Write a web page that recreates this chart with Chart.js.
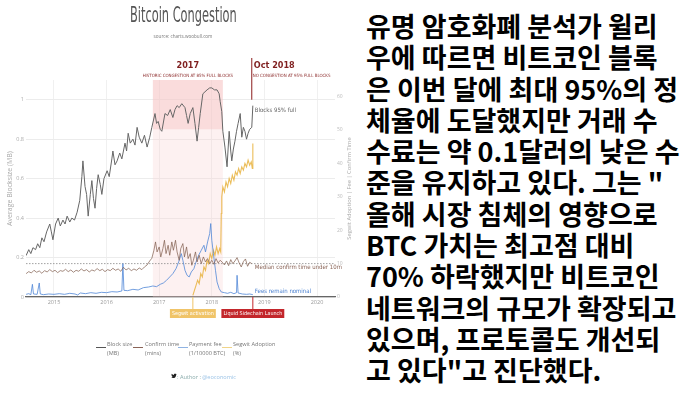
<!DOCTYPE html>
<html>
<head>
<meta charset="utf-8">
<script src="https://cdn.jsdelivr.net/npm/chart.js@4.4.0/dist/chart.umd.min.js"></script>
<style>
  body { margin: 0; width: 700px; height: 394px; overflow: hidden; position: relative; background: #fff; font-family: 'Open Sans', sans-serif; }
  #wrap { position: absolute; left: 0; top: 0; width: 355px; height: 394px; }
  .t { position: absolute; white-space: nowrap; }
  #title { left: 130px; top: 2px; font-family: 'Liberation Sans Narrow', 'DejaVu Sans Condensed', 'Liberation Sans', sans-serif; font-size: 22px; color: #555; transform-origin: 0 0; }
  #source { left: 0; width: 366px; text-align: center; top: 33px; font-size: 4.6px; color: #777; }
  .lg { position: absolute; top: 340px; font-size: 5.6px; line-height: 9px; color: #777; }
  .sw { position: absolute; top: 347px; width: 10px; height: 0; border-top: 1.3px solid #555; }
  #author { left: 177px; top: 373px; font-size: 5.6px; color: #8aa; }
  #author b { font-weight: normal; color: #9bc3e6; }
  #bird { position: absolute; left: 171px; top: 373px; }
  #kr { position: absolute; left: 366px; top: 10px; font-family: 'Noto Sans CJK KR', sans-serif; font-weight: 700; font-size: 27px; line-height: 31.3px; color: #000; white-space: nowrap; }
</style>
</head>
<body>
<div id="wrap"><canvas id="c" width="355" height="394"></canvas></div>
<div class="t" id="title">Bitcoin Congestion</div>
<div class="t" id="source">source: charts.woobull.com</div>

<div class="sw" style="left:96px;border-color:#555"></div>
<div class="lg" style="left:107px">Block size<br>(MB)</div>
<div class="sw" style="left:133px;border-color:#8a6457"></div>
<div class="lg" style="left:145px">Confirm time<br>(mins)</div>
<div class="sw" style="left:178px;border-color:#8fb3e3"></div>
<div class="lg" style="left:189px">Payment fee<br>(1/10000 BTC)</div>
<div class="sw" style="left:222px;border-color:#f0d488"></div>
<div class="lg" style="left:233px">Segwit Adoption<br>(%)</div>

<svg id="bird" width="6" height="6" viewBox="0 0 24 24"><path fill="#222" d="M23 4.6c-.8.4-1.7.6-2.6.7.9-.6 1.6-1.4 2-2.5-.9.5-1.9.9-2.9 1.1A4.5 4.5 0 0 0 11.8 8 12.8 12.8 0 0 1 2.5 3.3a4.5 4.5 0 0 0 1.4 6 4.4 4.4 0 0 1-2-.6 4.5 4.5 0 0 0 3.6 4.5 4.5 4.5 0 0 1-2 .1 4.5 4.5 0 0 0 4.2 3.1A9 9 0 0 1 1 18.3 12.8 12.8 0 0 0 7.9 20.3c8.3 0 12.8-6.9 12.8-12.8v-.6c.9-.6 1.6-1.400 2.3-2.3z"/></svg>
<div class="t" id="author">: Author : <b>@eoconomic</b></div>

<div id="kr">유명 암호화폐 분석가 윌리<br>우에 따르면 비트코인 블록<br>은 이번 달에 최대 95%의 정<br>체율에 도달했지만 거래 수<br>수료는 약 0.1달러의 낮은 수<br>준을 유지하고 있다. 그는 "<br>올해 시장 침체의 영향으로<br>BTC 가치는 최고점 대비<br>70% 하락했지만 비트코인<br>네트워크의 규모가 확장되고<br>있으며, 프로토콜도 개선되<br>고 있다"고 진단했다.</div>

<script>
// Bitcoin congestion — block size, confirm time, fees, segwit share
const yearTicks = [2015, 2016, 2017, 2018, 2019, 2020];
const blockTicks = [0, 0.2, 0.4, 0.6, 0.8, 1];
const rightTicks = [0, 10, 20, 30, 40, 50, 60];

const blockYears = [2014.47, 2014.52, 2014.56, 2014.60, 2014.65, 2014.69, 2014.73, 2014.77, 2014.81, 2014.86,
  2014.92, 2014.95, 2014.98, 2015.03, 2015.08, 2015.12, 2015.17, 2015.21, 2015.25, 2015.30,
  2015.34, 2015.39, 2015.44, 2015.49, 2015.53, 2015.55, 2015.59, 2015.62, 2015.65, 2015.69,
  2015.72, 2015.75, 2015.78, 2015.81, 2015.84, 2015.88, 2015.91, 2015.95, 2016.01, 2016.05,
  2016.10, 2016.12, 2016.16, 2016.20, 2016.25, 2016.29, 2016.35, 2016.38, 2016.41, 2016.45,
  2016.50, 2016.54, 2016.58, 2016.62, 2016.67, 2016.72, 2016.77, 2016.82, 2016.86, 2016.92,
  2016.95, 2016.98, 2017.02, 2017.05, 2017.11, 2017.16, 2017.21, 2017.26, 2017.30, 2017.34,
  2017.38, 2017.43, 2017.49, 2017.52, 2017.55, 2017.59, 2017.64, 2017.68, 2017.72, 2017.75,
  2017.78, 2017.83, 2017.87, 2017.91, 2017.96, 2018.00, 2018.05, 2018.10, 2018.14, 2018.16,
  2018.19, 2018.21, 2018.25, 2018.29, 2018.31, 2018.33, 2018.36, 2018.38, 2018.41, 2018.44,
  2018.47, 2018.50, 2018.54, 2018.57, 2018.60, 2018.63, 2018.66, 2018.69, 2018.72, 2018.76, 2018.78];
const blockSize = [0.21, 0.24, 0.22, 0.25, 0.24, 0.27, 0.25, 0.30, 0.28, 0.33,
  0.37, 0.33, 0.29, 0.37, 0.40, 0.36, 0.39, 0.37, 0.41, 0.38,
  0.40, 0.39, 0.43, 0.49, 0.61, 0.69, 0.56, 0.52, 0.41, 0.52,
  0.59, 0.50, 0.45, 0.55, 0.62, 0.57, 0.52, 0.60, 0.64, 0.61,
  0.70, 0.74, 0.67, 0.69, 0.73, 0.70, 0.78, 0.74, 0.83, 0.78,
  0.80, 0.77, 0.86, 0.81, 0.78, 0.82, 0.76, 0.81, 0.86, 0.93,
  0.88, 0.89, 0.85, 0.84, 0.93, 0.92, 0.95, 0.91, 0.95, 0.97,
  0.96, 0.98, 0.96, 0.92, 0.88, 0.93, 0.96, 0.88, 0.79, 0.86,
  0.93, 1.03, 1.04, 1.05, 1.06, 1.06, 1.05, 1.05, 1.03, 0.99,
  0.94, 0.84, 0.76, 0.66, 0.75, 0.84, 0.74, 0.69, 0.75, 0.79,
  0.84, 0.88, 0.93, 0.81, 0.86, 0.84, 0.80, 0.83, 0.85, 0.86, 0.97];

const confirmYears = [2014.47, 2014.52, 2014.57, 2014.62, 2014.67, 2014.72, 2014.77, 2014.82, 2014.87, 2014.92,
  2014.97, 2015.02, 2015.07, 2015.12, 2015.17, 2015.22, 2015.27, 2015.32, 2015.37, 2015.42,
  2015.47, 2015.52, 2015.57, 2015.62, 2015.67, 2015.72, 2015.77, 2015.82, 2015.87, 2015.92,
  2015.97, 2016.02, 2016.07, 2016.12, 2016.17, 2016.22, 2016.27, 2016.32, 2016.37, 2016.42,
  2016.47, 2016.52, 2016.57, 2016.62, 2016.67, 2016.72, 2016.77, 2016.82, 2016.86, 2016.90,
  2016.93, 2016.96, 2017.00, 2017.03, 2017.07, 2017.10, 2017.13, 2017.17, 2017.20, 2017.24,
  2017.27, 2017.31, 2017.34, 2017.38, 2017.41, 2017.45, 2017.48, 2017.52, 2017.55, 2017.59,
  2017.62, 2017.65, 2017.69, 2017.72, 2017.76, 2017.80, 2017.84, 2017.88, 2017.92, 2017.96,
  2018.00, 2018.04, 2018.08, 2018.12, 2018.16, 2018.20, 2018.24, 2018.28, 2018.32, 2018.36,
  2018.40, 2018.44, 2018.48, 2018.52, 2018.56, 2018.60, 2018.64, 2018.68, 2018.72, 2018.76];
const confirmMins = [7.0, 7.6, 7.2, 8.0, 7.4, 7.8, 7.1, 7.9, 7.5, 8.2,
  7.6, 8.0, 7.3, 7.9, 7.7, 8.3, 7.6, 8.1, 7.4, 8.0,
  7.7, 8.4, 7.8, 8.2, 7.5, 8.1, 7.8, 8.5, 7.9, 8.3,
  7.6, 8.2, 7.9, 8.6, 8.0, 8.4, 7.7, 8.9, 8.1, 8.6,
  7.9, 8.4, 8.0, 8.7, 8.2, 9.0, 9.6, 10.8, 11.6, 14.0,
  16.5, 13.5, 15.0, 12.0, 14.5, 17.0, 13.0, 15.5, 12.5, 16.5,
  14.0, 17.0, 13.5, 11.0, 14.5, 16.0, 12.0, 15.0, 11.5, 13.0,
  9.5, 11.0, 13.5, 10.5, 12.5, 10.0, 12.0, 10.5, 11.5, 10.0,
  11.0, 9.8, 11.5, 10.2, 11.0, 10.4, 9.6, 10.8, 9.4, 11.2,
  10.0, 10.8, 11.8, 10.2, 9.0, 10.6, 11.4, 9.2, 10.4, 10.0];

const feeYears = [2014.47, 2014.52, 2014.56, 2014.59, 2014.61, 2014.68, 2014.72, 2014.74, 2014.80, 2014.90,
  2015.00, 2015.10, 2015.20, 2015.30, 2015.40, 2015.45, 2015.50, 2015.60, 2015.70, 2015.80,
  2015.90, 2016.00, 2016.10, 2016.20, 2016.29, 2016.31, 2016.33, 2016.40, 2016.50, 2016.60,
  2016.70, 2016.80, 2016.88, 2016.95, 2017.02, 2017.08, 2017.14, 2017.20, 2017.26, 2017.32,
  2017.37, 2017.42, 2017.45, 2017.49, 2017.53, 2017.57, 2017.61, 2017.66, 2017.70, 2017.75,
  2017.80, 2017.85, 2017.88, 2017.92, 2017.96, 2017.98, 2018.00, 2018.03, 2018.07, 2018.10,
  2018.14, 2018.18, 2018.24, 2018.30, 2018.36, 2018.42, 2018.47, 2018.48, 2018.50, 2018.58,
  2018.66, 2018.72, 2018.78];
const feeBtc = [0.8, 1.0, 0.7, 3.8, 0.9, 0.8, 4.2, 0.9, 0.7, 0.9,
  0.8, 1.0, 0.8, 1.1, 0.9, 0.6, 1.2, 1.0, 1.3, 1.1,
  1.4, 1.3, 1.6, 1.5, 1.8, 10.0, 2.0, 1.9, 2.3, 2.1,
  2.8, 3.0, 3.3, 3.1, 3.8, 4.2, 5.0, 6.0, 7.0, 8.5,
  10.5, 13.0, 11.0, 8.0, 6.5, 6.0, 7.5, 8.5, 10.5, 12.5,
  14.0, 15.5, 13.5, 16.5, 19.0, 22.0, 17.0, 13.0, 8.0, 4.5,
  2.5, 1.5, 1.3, 1.1, 1.4, 1.0, 1.3, 6.5, 1.2, 0.9,
  0.8, 0.9, 0.7];

const segwitYears = [2017.64, 2017.67, 2017.70, 2017.73, 2017.76, 2017.79, 2017.82, 2017.85, 2017.88, 2017.91,
  2017.94, 2017.97, 2018.00, 2018.03, 2018.06, 2018.09, 2018.12, 2018.15, 2018.17, 2018.18,
  2018.19, 2018.21, 2018.24, 2018.27, 2018.30, 2018.33, 2018.36, 2018.39, 2018.42, 2018.45,
  2018.48, 2018.51, 2018.54, 2018.57, 2018.60, 2018.63, 2018.66, 2018.69, 2018.72, 2018.75,
  2018.77, 2018.78];
const segwitPct = [0.5, 2.0, 3.5, 5.0, 4.0, 7.0, 6.0, 9.0, 8.0, 11.0,
  10.0, 13.0, 11.5, 14.0, 12.5, 15.0, 13.0, 14.5, 13.5, 25.0,
  30.0, 33.0, 31.5, 34.5, 33.0, 35.5, 34.0, 36.5, 35.0, 37.5,
  36.5, 38.5, 37.0, 39.0, 38.0, 40.0, 39.0, 41.0, 39.5, 40.5,
  38.5, 46.0];

const congestion = [2016.88, 2018.21];   // shaded period
const congestionBand = 0.85;             // MB, darker band above
const confirmTarget = 10;                // minutes, dotted line
const events = [
  { year: 2017.64, label: 'Segwit activation', color: '#f0c468' },
  { year: 2018.78, label: 'Liquid Sidechain Launch', color: '#c3262b' },
];
const octMark = 2018.76;

const pts = (xs, ys) => xs.map((x, i) => ({ x, y: ys[i] }));
const narrow = "'Liberation Sans Narrow', 'DejaVu Sans Condensed', 'Liberation Sans', sans-serif";

const overlay = {
  id: 'overlay',
  beforeDatasetsDraw(chart) {
    const { ctx, chartArea: a, scales: { x, y, y1 } } = chart;
    const x0 = x.getPixelForValue(congestion[0]);
    const x1 = x.getPixelForValue(congestion[1]);
    ctx.save();
    ctx.fillStyle = 'rgba(250,210,210,0.3)';
    ctx.fillRect(x0, a.top, x1 - x0, a.bottom - a.top);
    ctx.fillStyle = 'rgba(245,190,190,0.4)';
    ctx.fillRect(x0, a.top, x1 - x0, y.getPixelForValue(congestionBand) - a.top);
    const yd = y1.getPixelForValue(confirmTarget);
    ctx.setLineDash([1.5, 1.5]);
    ctx.strokeStyle = '#888';
    ctx.lineWidth = 0.8;
    ctx.beginPath(); ctx.moveTo(a.left, yd); ctx.lineTo(a.right, yd); ctx.stroke();
    ctx.restore();
  },
  afterDraw(chart) {
    const { ctx, chartArea: a, scales: { x, y, y1 } } = chart;
    const xm = (x.getPixelForValue(congestion[0]) + x.getPixelForValue(congestion[1])) / 2;
    const xo = x.getPixelForValue(octMark);
    ctx.save();
    // Oct 2018 marker
    ctx.strokeStyle = '#8b1c1c';
    ctx.lineWidth = 1;
    ctx.beginPath(); ctx.moveTo(xo, 58); ctx.lineTo(xo, y.getPixelForValue(1)); ctx.stroke();

    ctx.fillStyle = '#7f1f1f';
    ctx.font = 'bold 9px ' + narrow;
    ctx.textAlign = 'center';
    ctx.fillText('2017', xm, 68);
    ctx.textAlign = 'left';
    ctx.fillText('Oct 2018', xo + 2, 68);
    ctx.font = '4.4px ' + narrow;
    ctx.fillStyle = '#8b2a2a';
    ctx.textAlign = 'center';
    ctx.fillText('HISTORIC CONGESTION AT 85% FULL BLOCKS', xm, 77);
    ctx.textAlign = 'left';
    ctx.fillText('NO CONGESTION AT 95% FULL BLOCKS', xo + 1, 77);

    // series notes
    const xl = x.getPixelForValue(blockYears[blockYears.length - 1]) + 2;
    ctx.font = '6px ' + narrow;
    ctx.fillStyle = '#666';
    ctx.fillText('Blocks 95% full', xl, 112);
    ctx.fillStyle = '#8a6457';
    ctx.fillText('Median confirm time under 10m', xl, y1.getPixelForValue(confirmTarget) + 5.5);
    ctx.fillStyle = '#4a80d0';
    ctx.fillText('Fees remain nominal', xl, a.bottom - 4);

    // event markers below the axis
    ctx.font = '5.4px ' + narrow;
    ctx.textAlign = 'center';
    ctx.textBaseline = 'middle';
    events.forEach(ev => {
      const ex = x.getPixelForValue(ev.year);
      const w = ctx.measureText(ev.label).width + 4;
      ctx.strokeStyle = ev.color;
      ctx.lineWidth = 1;
      ctx.beginPath(); ctx.moveTo(ex, a.bottom); ctx.lineTo(ex, 309); ctx.stroke();
      ctx.fillStyle = ev.color;
      ctx.fillRect(ex - w / 2, 309, w, 9);
      ctx.fillStyle = '#fff';
      ctx.fillText(ev.label, ex, 313.8);
    });

    // right axis title, reading bottom-to-top
    ctx.translate(349, (a.top + a.bottom) / 2);
    ctx.rotate(-Math.PI / 2);
    ctx.font = '5.8px Open Sans';
    ctx.fillStyle = '#aaa';
    ctx.fillText('Segwit Adoption | Fee | Confirm Time', 0, 0);
    ctx.restore();
  }
};

Chart.defaults.font.family = 'Open Sans';

new Chart(document.getElementById('c'), {
  type: 'line',
  data: {
    datasets: [
      { label: 'Block size (MB)', data: pts(blockYears, blockSize), yAxisID: 'y', borderColor: '#666', borderWidth: 1 },
      { label: 'Confirm time (mins)', data: pts(confirmYears, confirmMins), yAxisID: 'y1', borderColor: 'rgba(130,95,80,0.8)', borderWidth: 0.9 },
      { label: 'Payment fee (1/10000 BTC)', data: pts(feeYears, feeBtc), yAxisID: 'y1', borderColor: 'rgba(80,135,215,0.8)', borderWidth: 1 },
      { label: 'Segwit Adoption (%)', data: pts(segwitYears, segwitPct), yAxisID: 'y1', borderColor: 'rgba(232,178,60,0.85)', borderWidth: 1.1 },
    ]
  },
  options: {
    responsive: false,
    animation: false,
    layout: { padding: { top: 80, bottom: 82, left: 0, right: 0 } },
    elements: { point: { radius: 0 }, line: { tension: 0 } },
    plugins: { legend: { display: false }, tooltip: { enabled: false } },
    scales: {
      x: {
        type: 'linear', min: 2014.468, max: 2020.342,
        afterBuildTicks: s => { s.ticks = yearTicks.map(v => ({ value: v })); },
        afterFit: s => { s.height = 15; },
        ticks: { padding: 2, color: '#999', font: { size: 5.5 }, callback: v => String(v) },
        grid: { color: '#f0f0f0', drawTicks: false },
        border: { display: true, color: '#666', width: 1.3 }
      },
      y: {
        position: 'left', min: 0, max: 1.1,
        afterBuildTicks: s => { s.ticks = blockTicks.map(v => ({ value: v })); },
        afterFit: s => { s.width = 26; },
        ticks: { padding: 2, color: '#aaa', font: { size: 5.5 }, callback: v => String(v) },
        grid: { color: '#ececec', drawTicks: false },
        border: { display: false },
        title: { display: true, text: 'Average Blocksize (MB)', color: '#aaa', font: { size: 7 }, padding: { top: 6, bottom: 0 } }
      },
      y1: {
        position: 'right', min: 0, max: 65,
        afterBuildTicks: s => { s.ticks = rightTicks.map(v => ({ value: v })); },
        afterFit: s => { s.width = 20; },
        ticks: { padding: 2, color: '#bbb', font: { size: 5 }, callback: v => String(v) },
        grid: { display: false, drawTicks: false },
        border: { display: false }
      }
    }
  },
  plugins: [overlay]
});

// squeeze the title to the reference width
const title = document.getElementById('title');
title.style.transform = 'scaleX(' + (107 / title.offsetWidth) + ')';
</script>
</body>
</html>
